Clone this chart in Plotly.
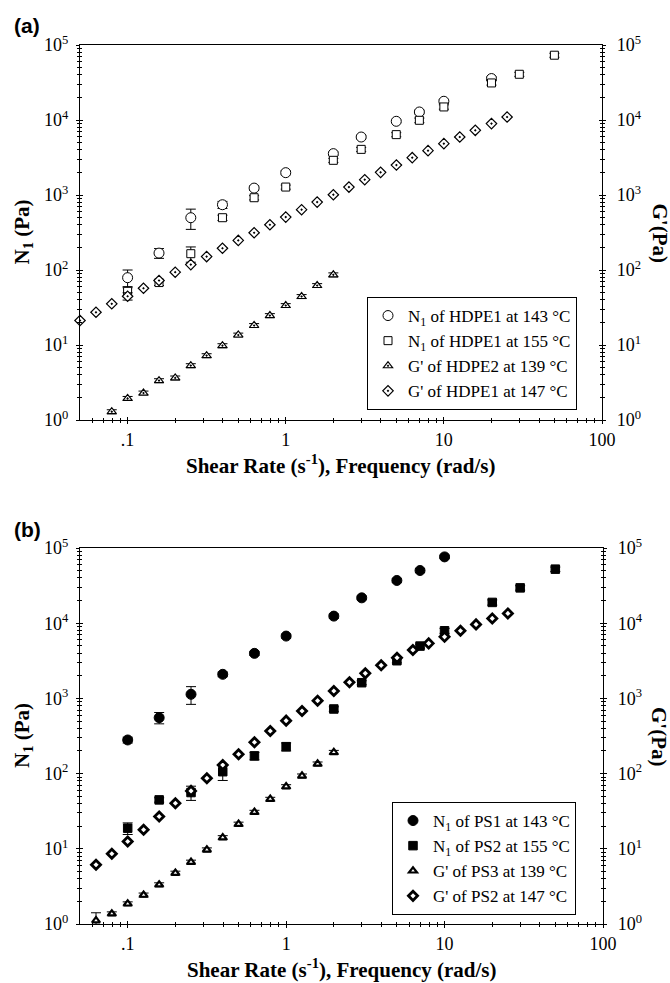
import math
import plotly.graph_objects as go

# ---------------- data ----------------
# (a) HDPE: first normal stress difference N1 (shear rate) and storage modulus G' (frequency)
a_n1_143_x = [0.1, 0.158, 0.251, 0.398, 0.631, 1, 2, 3, 5, 7, 10, 20]
a_n1_143_y = [79, 168, 498, 742, 1236, 1985, 3560, 5930, 9610, 12790, 17770, 35700]
a_n1_143_e = [21, 25, 150, 80, 80, 120, 200, 300, 400, 700, 1000, 2000]

a_n1_155_x = [0.1, 0.158, 0.251, 0.398, 0.631, 1, 2, 3, 5, 7, 10, 20, 30, 50]
a_n1_155_y = [52, 68, 165, 498, 920, 1276, 2900, 4060, 6380, 9910, 14930, 31200, 40700, 73100]
a_n1_155_e = [8, 6, 38, 40, 60, 80, 180, 250, 400, 700, 1000, 2000, 2500, 4500]

a_gp_139_x = [0.0794, 0.1, 0.126, 0.158, 0.2, 0.251, 0.316, 0.398, 0.501, 0.631,
              0.794, 1, 1.26, 1.58, 2]
a_gp_139_y = [1.29, 1.94, 2.29, 3.35, 3.64, 5.31, 7.22, 9.8, 13.6, 18.2,
              24.7, 33.6, 44.3, 62.1, 86.3]
a_gp_139_e = [0.08, 0.12, 0.14, 0.2, 0.22, 0.32, 0.43, 0.6, 0.8, 1.1,
              1.5, 2.0, 2.7, 3.7, 5.2]

a_gp_147_x = [0.05, 0.0631, 0.0794, 0.1, 0.126, 0.158, 0.2, 0.251, 0.316, 0.398,
              0.501, 0.631, 0.794, 1, 1.26, 1.58, 2, 2.51, 3.16, 3.98,
              5.01, 6.31, 7.94, 10, 12.6, 15.8, 20, 25.1]
a_gp_147_y = [21.2, 27.3, 35.4, 44.7, 57.1, 72.4, 93.5, 118, 151, 195,
              248, 314, 401, 507, 637, 804, 1009, 1275, 1600, 2004,
              2507, 3147, 3902, 4840, 5930, 7280, 8950, 10960]
a_gp_147_e = [0, 0, 0, 5, 0, 0, 0, 0, 0, 0,
              0, 0, 0, 0, 0, 0, 0, 0, 0, 0,
              0, 0, 0, 0, 0, 0, 0, 0]

# (b) PS
b_n1_143_x = [0.1, 0.158, 0.251, 0.398, 0.631, 1, 2, 3, 5, 7, 10]
b_n1_143_y = [280, 554, 1133, 2090, 3970, 6740, 12420, 21740, 37000, 50200, 76200]
b_n1_143_e = [25, 95, 300, 150, 250, 400, 800, 1200, 2000, 3000, 4000]

b_n1_155_x = [0.1, 0.158, 0.251, 0.398, 0.631, 1, 2, 3, 5, 7, 10, 20, 30, 50]
b_n1_155_y = [18.8, 44.7, 56, 106, 172, 228, 723, 1617, 3170, 4965, 7930, 18900, 29500, 52300]
b_n1_155_e = [3.3, 3, 12, 25, 20, 28, 50, 100, 200, 300, 600, 1500, 2000, 3500]

b_gp_139_x = [0.0631, 0.0794, 0.1, 0.126, 0.158, 0.2, 0.251, 0.316, 0.398, 0.501,
              0.631, 0.794, 1, 1.26, 1.58, 2]
b_gp_139_y = [1.11, 1.37, 1.86, 2.43, 3.33, 4.76, 6.66, 9.7, 14.1, 21.3,
              30.7, 45.7, 67.2, 93.2, 134.6, 192]
b_gp_139_e = [0.3, 0.08, 0.11, 0.15, 0.2, 0.28, 0.4, 0.58, 0.85, 1.3,
              1.8, 2.7, 4.0, 5.6, 8.1, 11.5]

b_gp_147_x = [0.0631, 0.0794, 0.1, 0.126, 0.158, 0.2, 0.251, 0.316, 0.398, 0.501,
              0.631, 0.794, 1, 1.26, 1.58, 2, 2.51, 3.16, 3.98, 5.01,
              6.31, 7.94, 10, 12.6, 15.8, 20, 25.1]
b_gp_147_y = [6.13, 8.59, 12.5, 17.9, 26.9, 40.4, 58.9, 86.9, 130, 181,
              261, 369, 506, 680, 933, 1254, 1636, 2153, 2752, 3470,
              4395, 5390, 6590, 7930, 9640, 11580, 13490]

# axis ticks
x_tick_vals = [0.1, 1, 10, 100]
x_tick_text = [".1", "1", "10", "100"]
y_tick_vals = [1, 10, 100, 1e3, 1e4, 1e5]
y_tick_text = ["10<sup>%d</sup>" % i for i in range(6)]

SERIF = "Liberation Serif"
SANS = "Liberation Sans"
W, H = 670, 983

x_minor = [k * 10 ** e for e in (-2, -1, 0, 1) for k in range(2, 10)
           if 0.05 < k * 10 ** e < 100]
y_minor = [k * 10 ** e for e in range(0, 5) for k in range(2, 10)]

fig = go.Figure()


def add_series(x, y, err, name, xa, ya, legend, symbol, size, fill, lw):
    err_cfg = dict(visible=False)
    if err is not None:
        err_cfg = dict(type="data", array=err, visible=True, color="black",
                       thickness=1, width=5)
    fig.add_trace(go.Scatter(
        x=x, y=y, mode="markers", name=name, xaxis=xa, yaxis=ya,
        legend=legend, cliponaxis=False,
        marker=dict(symbol=symbol, size=size, color=fill,
                    line=dict(color="black", width=lw)),
        error_y=err_cfg))


# panel (a): N1 on the left axis, G' on the right axis
add_series(a_n1_143_x, a_n1_143_y, a_n1_143_e, "N<sub>1</sub> of HDPE1 at 143 °C",
           "x", "y", "legend", "circle", 10, "white", 1)
add_series(a_n1_155_x, a_n1_155_y, a_n1_155_e, "N<sub>1</sub> of HDPE1 at 155 °C",
           "x", "y", "legend", "square", 8, "white", 1)
add_series(a_gp_139_x, a_gp_139_y, a_gp_139_e, "G' of HDPE2 at 139 °C",
           "x3", "y2", "legend", "triangle-up-dot", 8, "white", 1.2)
add_series(a_gp_147_x, a_gp_147_y, a_gp_147_e, "G' of HDPE1 at 147 °C",
           "x3", "y2", "legend", "diamond-dot", 8, "white", 1.2)

# panel (b)
add_series(b_n1_143_x, b_n1_143_y, b_n1_143_e, "N<sub>1</sub> of PS1 at 143 °C",
           "x2", "y3", "legend2", "circle", 10, "black", 1)
add_series(b_n1_155_x, b_n1_155_y, b_n1_155_e, "N<sub>1</sub> of PS2 at 155 °C",
           "x2", "y3", "legend2", "square", 8.5, "black", 1)
add_series(b_gp_139_x, b_gp_139_y, b_gp_139_e, "G' of PS3 at 139 °C",
           "x4", "y4", "legend2", "triangle-up", 7, "white", 2.2)
add_series(b_gp_147_x, b_gp_147_y, None, "G' of PS2 at 147 °C",
           "x4", "y4", "legend2", "diamond", 7, "white", 2.8)

# plot areas in pixels: (left, right, top, bottom)
box_a = (80, 602, 45, 420)
box_b = (80, 603, 548, 924)


def xdom(b):
    return [b[0] / W, b[1] / W]


def ydom(b):
    return [1 - b[3] / H, 1 - b[2] / H]


tick_font = dict(family=SERIF, size=18, color="black")
xr = [math.log10(0.05), 2]
yr = [0, 5]


def xaxis_cfg(b, anchor):
    return dict(domain=xdom(b), anchor=anchor, type="log", range=xr,
                tickvals=x_tick_vals, ticktext=x_tick_text, tickfont=tick_font,
                ticks="outside", ticklen=3, tickwidth=1, tickcolor="black",
                minor=dict(tickvals=x_minor, ticks="outside", ticklen=2,
                           tickcolor="black", showgrid=False),
                showline=True, linecolor="black", linewidth=1.2, mirror=True,
                showgrid=False, zeroline=False, automargin=False)


def xaxis_inner(over, anchor):
    return dict(overlaying=over, anchor=anchor, side="bottom", type="log", range=xr,
                tickvals=x_tick_vals, showticklabels=False,
                ticks="inside", ticklen=3, tickwidth=1, tickcolor="black",
                minor=dict(tickvals=x_minor, ticks="inside", ticklen=2,
                           tickcolor="black", showgrid=False),
                showline=False, showgrid=False, zeroline=False, automargin=False)


def yaxis_left(b, anchor):
    return dict(domain=ydom(b), anchor=anchor, type="log", range=yr,
                tickvals=y_tick_vals, ticktext=y_tick_text, tickfont=tick_font,
                ticks="outside", ticklen=3, tickwidth=1, tickcolor="black",
                minor=dict(tickvals=y_minor, ticks="outside", ticklen=2,
                           tickcolor="black", showgrid=False),
                showline=True, linecolor="black", linewidth=1.2, mirror="ticks",
                showgrid=False, zeroline=False, automargin=False,
                ticklabelstandoff=4)


def yaxis_right(over, anchor):
    return dict(overlaying=over, anchor=anchor, side="right", type="log", range=yr,
                tickvals=y_tick_vals, ticktext=y_tick_text, tickfont=tick_font,
                ticks="inside", ticklen=3, tickwidth=1, tickcolor="black",
                minor=dict(tickvals=y_minor, ticks="inside", ticklen=2,
                           tickcolor="black", showgrid=False),
                showline=True, linecolor="black", linewidth=1.2, mirror="ticks",
                showgrid=False, zeroline=False, automargin=False,
                ticklabelstandoff=10)


legend_common = dict(xanchor="left", yanchor="top", bordercolor="black",
                     borderwidth=1, bgcolor="white",
                     font=dict(family=SERIF, size=17, color="black"),
                     itemwidth=30, tracegroupgap=0)

fig.update_layout(
    width=W, height=H, autosize=False,
    margin=dict(l=0, r=0, t=0, b=0, pad=0),
    paper_bgcolor="white", plot_bgcolor="white",
    font=dict(family=SERIF, color="black"),
    xaxis=xaxis_cfg(box_a, "y"),
    yaxis=yaxis_left(box_a, "x"),
    yaxis2=yaxis_right("y", "x3"),
    xaxis3=xaxis_inner("x", "y2"),
    xaxis2=xaxis_cfg(box_b, "y3"),
    yaxis3=yaxis_left(box_b, "x2"),
    yaxis4=yaxis_right("y3", "x4"),
    xaxis4=xaxis_inner("x2", "y4"),
    legend=dict(x=367 / W, y=1 - 297 / H, **legend_common),
    legend2=dict(x=392 / W, y=1 - 802 / H, **legend_common),
    showlegend=True,
)

title_font = dict(family=SERIF, size=21, color="black")
ann = []
for box, tag in ((box_a, "(a)"), (box_b, "(b)")):
    midy = 1 - (box[2] + box[3]) / 2 / H
    midx = (box[0] + box[1]) / 2 / W
    ann.append(dict(text="<b>%s</b>" % tag, x=27 / W, y=1 - (box[2] - 19) / H,
                    xref="paper", yref="paper", showarrow=False,
                    xanchor="center", yanchor="middle",
                    font=dict(family=SANS, size=21, color="black")))
    ann.append(dict(text="<b>N<sub>1</sub> (Pa)</b>", x=23 / W, y=midy,
                    xref="paper", yref="paper", showarrow=False, textangle=-90,
                    xanchor="center", yanchor="middle", font=title_font))
    ann.append(dict(text="<b>G'(Pa)</b>", x=659 / W, y=midy,
                    xref="paper", yref="paper", showarrow=False, textangle=90,
                    xanchor="center", yanchor="middle", font=title_font))
    ann.append(dict(text="<b>Shear Rate (s<sup>-1</sup>), Frequency (rad/s)</b>",
                    x=midx, y=1 - (box[3] + 44) / H,
                    xref="paper", yref="paper", showarrow=False,
                    xanchor="center", yanchor="middle", font=title_font))
fig.update_layout(annotations=ann)

fig.write_html("out.html")
